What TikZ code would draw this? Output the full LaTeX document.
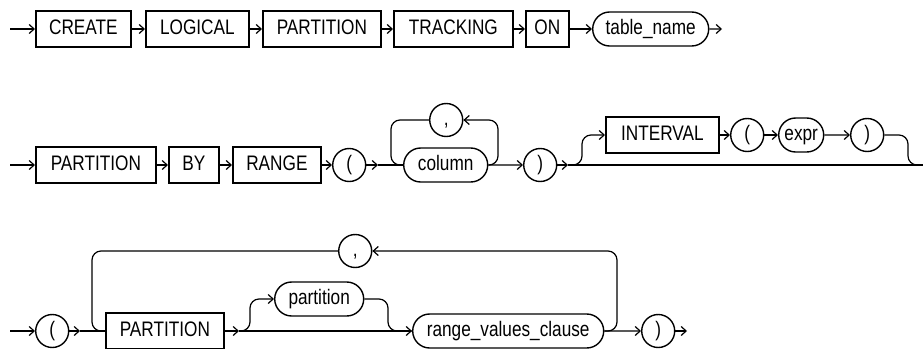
\documentclass[tikz,border=0pt]{standalone}
\usepackage{fontspec}
\setmainfont{Liberation Sans}[FakeStretch=0.82]
\usetikzlibrary{arrows.meta,shapes.misc}

\begin{document}
\begin{tikzpicture}[x=1pt,y=-1pt,line width=1.2pt,
    >={Straight Barb[length=5pt,width=9pt]},
    font=\fontsize{21}{25}\selectfont,
    kw/.style={draw,line width=1.8pt,minimum height=36pt,inner sep=0pt,text height=15pt,text depth=4pt,anchor=west},
    nt/.style={draw,rounded rectangle,line width=1.4pt,minimum height=34pt,inner sep=0pt,text height=15pt,text depth=4pt,anchor=west},
    sym/.style={draw,circle,line width=1.4pt,minimum size=33pt,inner sep=0pt,text height=14pt,text depth=4pt,anchor=west},
    rc/.style={rounded corners=9pt}]
    \useasboundingbox (0,0) rectangle (923,348);

    % first line
    \coordinate (startA) at (10,29);
    \node[kw,minimum width=95pt] (create) at (35,29) {CREATE};
    \node[kw,minimum width=103pt] (logical) at (145,29) {LOGICAL};
    \node[kw,minimum width=118pt] (partA) at (262,29) {PARTITION};
    \node[kw,minimum width=119pt] (tracking) at (393,29) {TRACKING};
    \node[kw,minimum width=43pt] (on) at (525,29) {ON};
    \node[nt,minimum width=116pt] (tablename) at (592,29) {table\_name};
    \coordinate (endA) at (722,29);
    \draw[->] (startA) -- (create);
    \draw[->] (create) -- (logical);
    \draw[->] (logical) -- (partA);
    \draw[->] (partA) -- (tracking);
    \draw[->] (tracking) -- (on);
    \draw[->] (on) -- (tablename);
    \draw[->] (tablename) -- (endA);

    % second line
    \coordinate (startB) at (10,165);
    \node[kw,minimum width=120pt] (partB) at (35,165) {PARTITION};
    \node[kw,minimum width=50pt] (by) at (168,165) {BY};
    \node[kw,minimum width=88pt] (range) at (232,165) {RANGE};
    \node[sym] (lparB) at (332,165) {(};
    \coordinate (aB1) at (378,165);
    \node[nt,minimum width=84pt] (column) at (403,165) {column};
    \node[sym] (comma) at (429,120) {,};
    \coordinate (colL) at (391,165);
    \coordinate (colR) at (498,165);
    \node[sym] (rparB) at (523,165) {)};
    \coordinate (jB) at (568,165);
    \coordinate (upB) at (582,165);
    \node[kw,minimum width=113pt] (interval) at (605,135) {INTERVAL};
    \node[sym] (lparC) at (730,135) {(};
    \node[nt,minimum width=45pt] (expr) at (778,135) {expr};
    \node[sym] (rparC) at (850,135) {)};
    \coordinate (dnB) at (908,165);
    \coordinate (endB) at (923,165);
    \draw[->] (startB) -- (partB);
    \draw[->] (partB) -- (by);
    \draw[->] (by) -- (range);
    \draw[->] (range) -- (lparB);
    \draw[->] (lparB) -- (aB1);
    \draw (aB1) -- (column);
    \draw[rc,->] (column.east) -- (colR) |- (comma.east);
    \draw[rc] (comma.west) -| (colL) -- (column.west);
    \draw[->] (column) -- (rparB);
    \draw[->] (rparB) -- (jB);
    \draw (jB) -- (endB);
    \draw[rc,->] (jB) -- (upB) |- (interval.west);
    \draw[->] (interval) -- (lparC);
    \draw[->] (lparC) -- (expr);
    \draw[->] (expr) -- (rparC);
    \draw[rc] (rparC.east) -| (dnB) -- (endB);

    % third line
    \coordinate (startC) at (10,331);
    \node[sym] (lparD) at (35,331) {(};
    \coordinate (aC1) at (80,331);
    \coordinate (lpL) at (92,331);
    \node[kw,minimum width=118pt] (partD) at (105,331) {PARTITION};
    \coordinate (aC2) at (239,331);
    \coordinate (upC) at (250,331);
    \node[nt,minimum width=89pt] (partname) at (274,299) {partition};
    \coordinate (dnC) at (388,331);
    \node[nt,minimum width=191pt] (rvc) at (412,331) {range\_values\_clause};
    \node[sym] (comma2) at (338,251) {,};
    \coordinate (lpR) at (617,331);
    \node[sym] (rparD) at (641,331) {)};
    \coordinate (endC) at (687,331);
    \draw[->] (startC) -- (lparD);
    \draw[->] (lparD) -- (aC1);
    \draw (aC1) -- (partD);
    \draw[rc] (comma2.west) -| (lpL) -- (partD.west);
    \draw[->] (partD) -- (aC2);
    \draw[->] (aC2) -- (rvc);
    \draw[rc,->] (aC2) -- (upC) |- (partname.west);
    \draw[rc] (partname.east) -| (dnC) -- (rvc.west);
    \draw[rc,->] (rvc.east) -- (lpR) |- (comma2.east);
    \draw[->] (rvc) -- (rparD);
    \draw[->] (rparD) -- (endC);
\end{tikzpicture}
\end{document}
